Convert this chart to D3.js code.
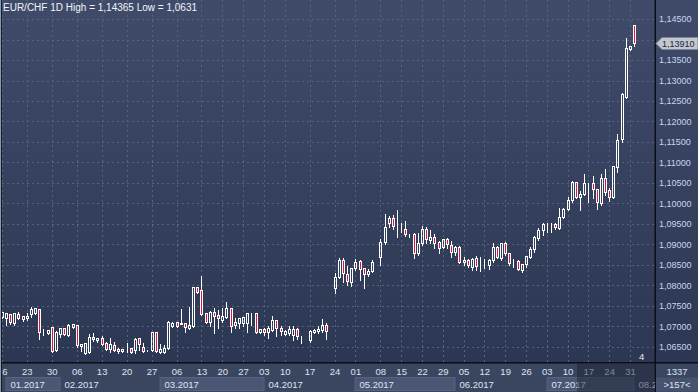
<!DOCTYPE html>
<html>
<head>
<meta charset="utf-8">
<script src="https://cdn.jsdelivr.net/npm/d3@7"></script>
<style>
  html, body { margin: 0; padding: 0; background: #2c3651; overflow: hidden; }
  svg { display: block; font-family: "Liberation Sans", Arial, sans-serif; }
</style>
</head>
<body>
<div id="chart"></div>
<script>
// daily EUR/CHF candles, 16.01.2017 .. 01.08.2017
const opens = [
  1.0722,1.0720,1.0730,1.0708,1.0730,1.0718,1.0725,1.0730,1.0732,1.0742,
  1.0686,1.0683,1.0698,1.0642,1.0681,1.0696,1.0679,1.0698,1.0703,1.0652,
  1.0635,1.0637,1.0674,1.0666,1.0671,1.0659,1.0644,1.0654,1.0644,1.0640,
  1.0644,1.0647,1.0642,1.0671,1.0649,1.0642,1.0642,1.0686,1.0637,1.0637,
  1.0647,1.0701,1.0710,1.0707,1.0708,1.0696,1.0701,1.0796,1.0789,1.0732,
  1.0710,1.0735,1.0727,1.0715,1.0722,1.0745,1.0703,1.0708,1.0708,1.0708,
  1.0732,1.0732,1.0686,1.0693,1.0686,1.0691,1.0715,1.0696,1.0681,1.0683,
  1.0679,1.0693,1.0676,1.0676,1.0666,1.0686,1.0688,1.0691,1.0703,1.0688,
  1.0793,1.0820,1.0862,1.0827,1.0808,1.0842,1.0859,1.0842,1.0827,1.0835,
  1.0859,1.0869,1.0906,1.0952,1.0964,1.0945,1.0938,1.0937,1.0925,1.0925,
  1.0879,1.0903,1.0937,1.0911,1.0918,1.0906,1.0893,1.0913,1.0898,1.0881,
  1.0893,1.0857,1.0862,1.0845,1.0867,1.0852,1.0853,1.0850,1.0862,1.0893,
  1.0867,1.0903,1.0879,1.0859,1.0859,1.0837,1.0852,1.0869,1.0889,1.0916,
  1.0935,1.0950,1.0951,1.0950,1.0940,1.0967,1.0986,1.1008,1.1052,1.1015,
  1.1023,1.1050,1.1050,1.1035,1.1001,1.1062,1.1032,1.1015,1.1088,1.1157,
  1.1259,1.1376,1.1435
];
const highs = [
  1.0737,1.0735,1.0732,1.0732,1.0737,1.0727,1.0735,1.0749,1.0747,1.0745,
  1.0696,1.0692,1.0699,1.0691,1.0698,1.0698,1.0708,1.0708,1.0705,1.0659,
  1.0662,1.0683,1.0686,1.0674,1.0679,1.0664,1.0674,1.0664,1.0649,1.0645,
  1.0662,1.0649,1.0674,1.0674,1.0662,1.0644,1.0688,1.0688,1.0659,1.0657,
  1.0715,1.0713,1.0711,1.0745,1.0710,1.0749,1.0796,1.0798,1.0825,1.0735,
  1.0740,1.0747,1.0742,1.0747,1.0762,1.0746,1.0722,1.0722,1.0723,1.0735,
  1.0735,1.0733,1.0696,1.0698,1.0703,1.0727,1.0718,1.0703,1.0693,1.0703,
  1.0703,1.0698,1.0679,1.0677,1.0693,1.0696,1.0703,1.0720,1.0710,1.0689,
  1.0832,1.0869,1.0869,1.0850,1.0845,1.0867,1.0864,1.0845,1.0842,1.0864,
  1.0860,1.0915,1.0976,1.0971,1.0974,1.0986,1.0954,1.0959,1.0928,1.0930,
  1.0930,1.0947,1.0945,1.0937,1.0928,1.0911,1.0915,1.0918,1.0910,1.0898,
  1.0898,1.0871,1.0867,1.0869,1.0874,1.0871,1.0867,1.0867,1.0906,1.0898,
  1.0906,1.0908,1.0881,1.0867,1.0864,1.0854,1.0874,1.0896,1.0923,1.0942,
  1.0954,1.0954,1.0954,1.0954,1.0991,1.0991,1.1018,1.1057,1.1054,1.1032,
  1.1074,1.1052,1.1069,1.1037,1.1074,1.1086,1.1040,1.1093,1.1171,1.1272,
  1.1406,1.1386,1.14365
];
const lows = [
  1.0720,1.0703,1.0705,1.0703,1.0718,1.0713,1.0715,1.0722,1.0730,1.0669,
  1.0679,1.0682,1.0637,1.0640,1.0674,1.0679,1.0676,1.0697,1.0649,1.0640,
  1.0632,1.0635,1.0664,1.0662,1.0654,1.0642,1.0637,1.0640,1.0635,1.0639,
  1.0637,1.0635,1.0635,1.0642,1.0637,1.0640,1.0640,1.0637,1.0635,1.0635,
  1.0644,1.0698,1.0698,1.0705,1.0686,1.0693,1.0698,1.0782,1.0727,1.0708,
  1.0701,1.0683,1.0696,1.0710,1.0720,1.0686,1.0696,1.0696,1.0701,1.0686,
  1.0703,1.0683,1.0683,1.0679,1.0671,1.0688,1.0676,1.0679,1.0679,1.0679,
  1.0666,1.0669,1.0659,1.0676,1.0662,1.0683,1.0683,1.0686,1.0669,1.0688,
  1.0781,1.0818,1.0808,1.0801,1.0798,1.0837,1.0813,1.0793,1.0822,1.0832,
  1.0859,1.0850,1.0901,1.0942,1.0937,1.0918,1.0930,1.0920,1.0918,1.0867,
  1.0874,1.0898,1.0903,1.0903,1.0891,1.0879,1.0891,1.0891,1.0869,1.0874,
  1.0854,1.0850,1.0845,1.0837,1.0837,1.0835,1.0842,1.0840,1.0857,1.0867,
  1.0862,1.0874,1.0850,1.0845,1.0837,1.0832,1.0845,1.0867,1.0881,1.0911,
  1.0923,1.0930,1.0930,1.0937,1.0937,1.0964,1.0984,1.1003,1.1013,1.0984,
  1.1020,1.1003,1.1013,1.0986,1.0996,1.1020,1.1006,1.1013,1.1076,1.1150,
  1.1257,1.1374,1.1384
];
const closes = [
  1.0735,1.0732,1.0710,1.0732,1.0720,1.0725,1.0720,1.0742,1.0745,1.0686,
  1.0687,1.0691,1.0640,1.0686,1.0696,1.0681,1.0703,1.0705,1.0654,1.0657,
  1.0659,1.0674,1.0669,1.0671,1.0657,1.0644,1.0657,1.0642,1.0640,1.0644,
  1.0645,1.0637,1.0669,1.0657,1.0640,1.0643,1.0686,1.0640,1.0644,1.0647,
  1.0710,1.0708,1.0701,1.0708,1.0698,1.0703,1.0796,1.0784,1.0730,1.0710,
  1.0735,1.0725,1.0720,1.0725,1.0745,1.0701,1.0710,1.0720,1.0722,1.0732,
  1.0733,1.0686,1.0693,1.0686,1.0696,1.0715,1.0696,1.0688,1.0688,1.0693,
  1.0693,1.0676,1.0677,1.0677,1.0688,1.0691,1.0693,1.0703,1.0688,1.0689,
  1.0820,1.0862,1.0830,1.0810,1.0842,1.0857,1.0840,1.0827,1.0835,1.0857,
  1.0860,1.0906,1.0942,1.0964,1.0945,1.0946,1.0937,1.0925,1.0926,1.0879,
  1.0903,1.0937,1.0913,1.0918,1.0903,1.0891,1.0913,1.0901,1.0881,1.0893,
  1.0857,1.0862,1.0850,1.0864,1.0847,1.0853,1.0852,1.0862,1.0893,1.0869,
  1.0903,1.0879,1.0854,1.0860,1.0840,1.0852,1.0872,1.0889,1.0918,1.0935,
  1.0950,1.0951,1.0950,1.0942,1.0967,1.0986,1.1008,1.1052,1.1015,1.1023,
  1.1050,1.1051,1.1035,1.1003,1.1062,1.1028,1.1015,1.1091,1.1154,1.1267,
  1.1379,1.1384,1.1391
];

const priceTicks = [1.065,1.070,1.075,1.080,1.085,1.090,1.095,1.100,1.105,1.110,
                    1.115,1.120,1.125,1.130,1.135,1.140,1.145];
// week labels and the candle index they sit on
const weekLabels = ["16","23","30","06","13","20","27","06","13","20","27","03","10","17","24",
                    "01","08","15","22","29","05","12","19","26","03","10","17","24","31"];
const weekIdx    = [0,6,12,18,24,30,36,42,48,53,58,63,68,74,80,
                    85,91,96,101,106,111,116,121,126,131,136,141,146,151];
const monthLabels = ["01.2017","02.2017","03.2017","04.2017","05.2017","06.2017","07.2017","08.2"];
const monthIdx    = [1,14,38,63,85,109,131,152];
const lastPrice = 1.1391;
const title = "EUR/CHF 1D High = 1,14365 Low = 1,0631";

const W = 698, H = 392;
const plotL = 2, plotR = 655, plotB = 362;
const fmt = v => d3.format(".5f")(v).replace(".", ",");

const svg = d3.select("#chart").append("svg")
    .attr("width", W).attr("height", H);

const defs = svg.append("defs");
const grad = defs.append("linearGradient").attr("id", "bg")
    .attr("x1", 0).attr("y1", 0).attr("x2", 0).attr("y2", 1);
grad.append("stop").attr("offset", "0%").attr("stop-color", "#3f4b69");
grad.append("stop").attr("offset", "100%").attr("stop-color", "#2c3753");
defs.append("clipPath").attr("id", "plotClip").append("rect")
    .attr("x", plotL).attr("y", 0).attr("width", plotR - plotL).attr("height", plotB);
defs.append("clipPath").attr("id", "axisClip").append("rect")
    .attr("x", plotL).attr("y", plotB).attr("width", plotR - plotL).attr("height", H - plotB);

svg.append("rect").attr("width", W).attr("height", plotB).attr("fill", "url(#bg)");
svg.append("rect").attr("y", plotB).attr("width", W).attr("height", H - plotB).attr("fill", "#3a4560");

const x = d3.scaleLinear().domain([0, opens.length - 1]).range([2.3, 634.6]);
const y = d3.scaleLinear().domain([1.065, 1.145]).range([347, 19]);
const px = v => Math.floor(x(v)) + 0.5;
const py = v => Math.round(y(v)) + 0.5;

// grid
const grid = svg.append("g").attr("clip-path", "url(#plotClip)")
    .attr("stroke", "#56627f").attr("stroke-dasharray", "2,3").attr("shape-rendering", "crispEdges");
grid.selectAll("line.h").data(priceTicks).join("line").attr("class", "h")
    .attr("x1", plotL).attr("x2", plotR).attr("y1", py).attr("y2", py);
grid.selectAll("line.v").data(weekIdx).join("line").attr("class", "v")
    .attr("y1", 0).attr("y2", plotB).attr("x1", px).attr("x2", px);

// candles
const candles = opens.map((o, i) => ({ i, o, h: highs[i], l: lows[i], c: closes[i] }));
const cg = svg.append("g").attr("clip-path", "url(#plotClip)").attr("shape-rendering", "crispEdges");
const cs = cg.selectAll("g.c").data(candles).join("g").attr("class", "c");
cs.append("line")
    .attr("x1", d => px(d.i)).attr("x2", d => px(d.i))
    .attr("y1", d => py(d.h)).attr("y2", d => py(Math.max(d.o, d.c)))
    .attr("stroke", "#fff");
cs.append("line")
    .attr("x1", d => px(d.i)).attr("x2", d => px(d.i))
    .attr("y1", d => py(Math.min(d.o, d.c))).attr("y2", d => py(d.l))
    .attr("stroke", "#fff");
cs.append("rect")
    .attr("x", d => px(d.i) - 1).attr("width", 2)
    .attr("y", d => py(Math.max(d.o, d.c)))
    .attr("height", d => Math.max(0, py(Math.min(d.o, d.c)) - py(Math.max(d.o, d.c))))
    .attr("fill", d => d.c < d.o ? "#e3123d" : "none")
    .attr("stroke", "#fff");

// frame lines
svg.append("rect").attr("x", 0).attr("y", plotB).attr("width", W).attr("height", 1.5).attr("fill", "#0b0e16");
svg.append("rect").attr("x", plotR - 0.5).attr("y", 0).attr("width", 1.5).attr("height", H).attr("fill", "#0b0e16");

// right price axis (the label under the last-price tag is hidden, as in the terminal)
const ty = Math.round(y(lastPrice)) + 0.5;
const ya = svg.append("g").attr("transform", `translate(${plotR},0)`)
    .call(d3.axisRight(y).tickValues(priceTicks.filter(p => Math.abs(y(p) - ty) > 9))
      .tickSize(0).tickPadding(4).tickFormat(fmt));
ya.select(".domain").remove();
ya.selectAll("text").attr("fill", "#c9d6ee").attr("font-size", 9)
    .attr("font-family", "Liberation Sans, Arial, sans-serif");

// last price tag
svg.append("path")
    .attr("d", `M${plotR + 1},${ty} L${plotR + 7},${ty - 6} L${W},${ty - 6} L${W},${ty + 6} L${plotR + 7},${ty + 6} Z`)
    .attr("fill", "#c3c8d0").attr("stroke", "#7d8696");
svg.append("text").attr("x", plotR + 7).attr("y", ty + 3.5)
    .attr("font-size", 9).attr("fill", "#1d2538").text(fmt(lastPrice));

// bottom time axis
const xa = svg.append("g").attr("clip-path", "url(#axisClip)");
xa.selectAll("rect.m").data(monthIdx).join("rect").attr("class", "m")
    .attr("x", d => px(d) - 0.5).attr("y", 377.5)
    .attr("width", (d, k) => Math.floor(k + 1 < monthIdx.length ? x(monthIdx[k + 1]) : plotR) - Math.floor(x(d)))
    .attr("height", 13)
    .attr("fill", (d, k) => k % 2 === 0 ? "#4a5673" : "none")
    .attr("stroke", (d, k) => k % 2 === 0 ? "#56627e" : "none");
xa.selectAll("text.m").data(monthIdx).join("text").attr("class", "m")
    .attr("x", d => px(d) + 4).attr("y", 388)
    .attr("font-size", 9.5).attr("fill", "#dde4f0")
    .text((d, k) => monthLabels[k]);
xa.selectAll("text.w").data(weekIdx).join("text").attr("class", "w")
    .attr("x", d => x(d)).attr("y", 375)
    .attr("text-anchor", "middle").attr("font-size", 9.5).attr("fill", "#dde4f0")
    .text((d, k) => weekLabels[k]);
// scroll shade over the latest weeks
svg.append("rect").attr("x", 577).attr("y", plotB + 1.5).attr("width", plotR - 0.5 - 577)
    .attr("height", H - plotB - 1.5).attr("fill", "#1c2436").attr("opacity", 0.5);

// corner box
svg.append("text").attr("x", 677).attr("y", 375).attr("text-anchor", "middle")
    .attr("font-size", 9.5).attr("fill", "#dde4f0").text("1337");
svg.append("rect").attr("x", plotR + 1).attr("y", 377.5).attr("width", W - plotR - 1).attr("height", 14)
    .attr("fill", "#46526e");
svg.append("text").attr("x", 677).attr("y", 388).attr("text-anchor", "middle")
    .attr("font-size", 9.5).attr("fill", "#dde4f0").text(">157<");

svg.append("text").attr("x", 639).attr("y", 360).attr("font-size", 9.5).attr("fill", "#e8edf5").text("4");

// left edge
svg.append("rect").attr("x", 0).attr("width", 1).attr("height", H).attr("fill", "#8f99ad");
svg.append("rect").attr("x", 1).attr("width", 1).attr("height", H).attr("fill", "#161c2a");

// title
svg.append("text").attr("x", 3).attr("y", 11).attr("font-size", 10).attr("fill", "#f2f5fa").text(title);
</script>
</body>
</html>
